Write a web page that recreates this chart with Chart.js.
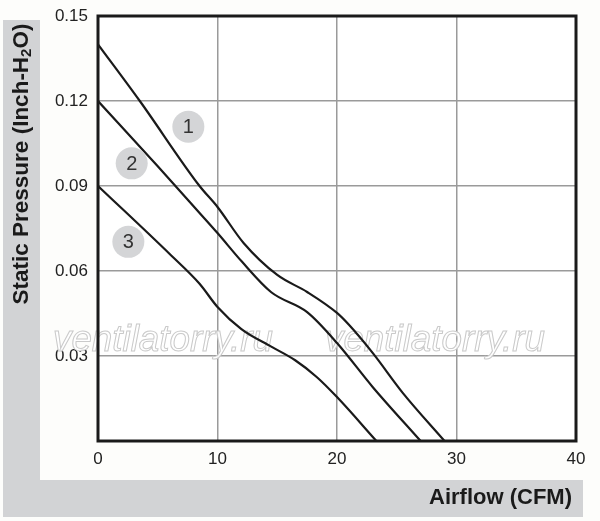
<!DOCTYPE html>
<html>
<head>
<meta charset="utf-8">
<script src="https://cdn.jsdelivr.net/npm/chart.js@4.4.1/dist/chart.umd.min.js"></script>
<style>
  html, body { margin: 0; padding: 0; background: #fdfdfb; }
  #wrap { width: 600px; height: 521px; }
</style>
</head>
<body>
<div id="wrap"><canvas id="myChart" width="600" height="521"></canvas></div>
<script>
// curve 1
const airflow1 = [0, 3.5, 8.5, 10, 12.2, 15, 17.5, 20, 21, 23, 25.5, 29];
const pressure1 = [0.14, 0.12, 0.090, 0.0826, 0.0698, 0.0586, 0.0526, 0.0452, 0.041, 0.031, 0.017, 0];
// curve 2
const airflow2 = [0, 5, 8.5, 10, 12, 14.5, 17.5, 20, 23, 27];
const pressure2 = [0.12, 0.097, 0.0805, 0.0734, 0.0635, 0.0525, 0.0455, 0.0346, 0.019, 0];
// curve 3
const airflow3 = [0, 6, 8.5, 10, 12, 14.5, 16.5, 18.3, 20, 23.3];
const pressure3 = [0.09, 0.066, 0.0555, 0.0473, 0.0395, 0.0333, 0.0285, 0.0226, 0.0155, 0];

// numbered markers next to the curves
const curveNames = ['1', '2', '3'];
const nameX = [7.56, 2.82, 2.54];
const nameY = [0.1109, 0.098, 0.0703];

const xTicks = [0, 10, 20, 30, 40];
const yTicks = [0.03, 0.06, 0.09, 0.12, 0.15];

const FONT = '"Liberation Sans", Arial, sans-serif';

function toPoints(xs, ys) {
    return xs.map((x, i) => ({x: x, y: ys[i]}));
}

const frame = {
    id: 'frame',
    beforeDraw(chart) {
        const c = chart.ctx;
        const a = chart.chartArea;
        c.save();
        c.fillStyle = '#fdfdfb';
        c.fillRect(0, 0, chart.width, chart.height);
        c.fillStyle = '#d2d3d5';
        c.fillRect(3, 20, 37, 497);   // left band
        c.fillRect(3, 480, 580, 37);  // bottom band
        c.fillStyle = '#ffffff';
        c.fillRect(a.left, a.top, a.right - a.left, a.bottom - a.top);
        c.restore();
    },
    beforeDatasetsDraw(chart) {
        // watermark
        const c = chart.ctx;
        c.save();
        c.font = 'italic 36px ' + FONT;
        const w = c.measureText('ventilatorry.ru').width;
        [53, 325].forEach(x0 => {
            c.save();
            c.translate(x0, 351);
            c.scale(220 / w, 1);
            c.lineWidth = 1;
            c.fillStyle = 'rgba(255,255,255,0.9)';
            c.strokeStyle = '#cacaca';
            c.fillText('ventilatorry.ru', 0, 0);
            c.strokeText('ventilatorry.ru', 0, 0);
            c.restore();
        });
        c.restore();
    },
    afterDraw(chart) {
        const c = chart.ctx;
        const a = chart.chartArea;
        const xs = chart.scales.x, ys = chart.scales.y;
        c.save();
        // plot border
        c.strokeStyle = '#1a1a1a';
        c.lineWidth = 3;
        c.strokeRect(a.left, a.top, a.right - a.left, a.bottom - a.top);

        // curve markers
        curveNames.forEach((n, i) => {
            const px = xs.getPixelForValue(nameX[i]);
            const py = ys.getPixelForValue(nameY[i]);
            c.beginPath();
            c.arc(px, py, 16, 0, Math.PI * 2);
            c.fillStyle = '#d4d5d7';
            c.fill();
            c.fillStyle = '#333333';
            c.font = '20px ' + FONT;
            c.textAlign = 'center';
            c.textBaseline = 'middle';
            c.fillText(n, px, py + 1);
        });

        // x title
        c.fillStyle = '#1a1a1a';
        c.font = 'bold 22px ' + FONT;
        c.textAlign = 'right';
        c.textBaseline = 'middle';
        c.fillText('Airflow (CFM)', 572, 498);

        // y title with subscript
        const parts = [
            {t: 'Static Pressure (Inch-H', f: 'bold 22.5px ' + FONT, dy: 0},
            {t: '2', f: 'bold 15px ' + FONT, dy: 5},
            {t: 'O)', f: 'bold 22.5px ' + FONT, dy: 0}
        ];
        let total = 0;
        parts.forEach(p => { c.font = p.f; p.w = c.measureText(p.t).width; total += p.w; });
        c.translate(22, 164);
        c.rotate(-Math.PI / 2);
        c.textAlign = 'left';
        let cx = -total / 2;
        parts.forEach(p => {
            c.font = p.f;
            c.fillText(p.t, cx, p.dy);
            cx += p.w;
        });
        c.restore();
    }
};

const ctx = document.getElementById('myChart');
const lineStyle = {
    showLine: true,
    borderColor: '#1a1a1a',
    borderWidth: 2.2,
    pointRadius: 0,
    cubicInterpolationMode: 'monotone',
    fill: false
};

new Chart(ctx, {
    type: 'scatter',
    data: {
        datasets: [
            Object.assign({label: '1', data: toPoints(airflow1, pressure1)}, lineStyle),
            Object.assign({label: '2', data: toPoints(airflow2, pressure2)}, lineStyle),
            Object.assign({label: '3', data: toPoints(airflow3, pressure3)}, lineStyle)
        ]
    },
    options: {
        responsive: false,
        animation: false,
        layout: {padding: {left: 0, right: 24, top: 16, bottom: 0}},
        plugins: {legend: {display: false}, tooltip: {enabled: false}},
        scales: {
            x: {
                type: 'linear',
                min: 0, max: 40,
                afterFit: s => { s.height = 80; s.paddingLeft = 0; s.paddingRight = 0; },
                afterBuildTicks: s => { s.ticks = xTicks.map(v => ({value: v})); },
                grid: {color: '#9a9a9a', lineWidth: 1.5, drawTicks: false},
                border: {display: false},
                ticks: {
                    padding: 8,
                    color: '#222',
                    font: {family: FONT, size: 17},
                    callback: v => String(v)
                }
            },
            y: {
                type: 'linear',
                min: 0, max: 0.15,
                afterFit: s => { s.width = 98; s.paddingTop = 0; s.paddingBottom = 0; },
                afterBuildTicks: s => { s.ticks = [0].concat(yTicks).map(v => ({value: v})); },
                grid: {color: '#9a9a9a', lineWidth: 1.5, drawTicks: false},
                border: {display: false},
                ticks: {
                    padding: 10,
                    color: '#222',
                    font: {family: FONT, size: 17},
                    callback: v => v === 0 ? '' : v.toFixed(2)
                }
            }
        }
    },
    plugins: [frame]
});
</script>
</body>
</html>
